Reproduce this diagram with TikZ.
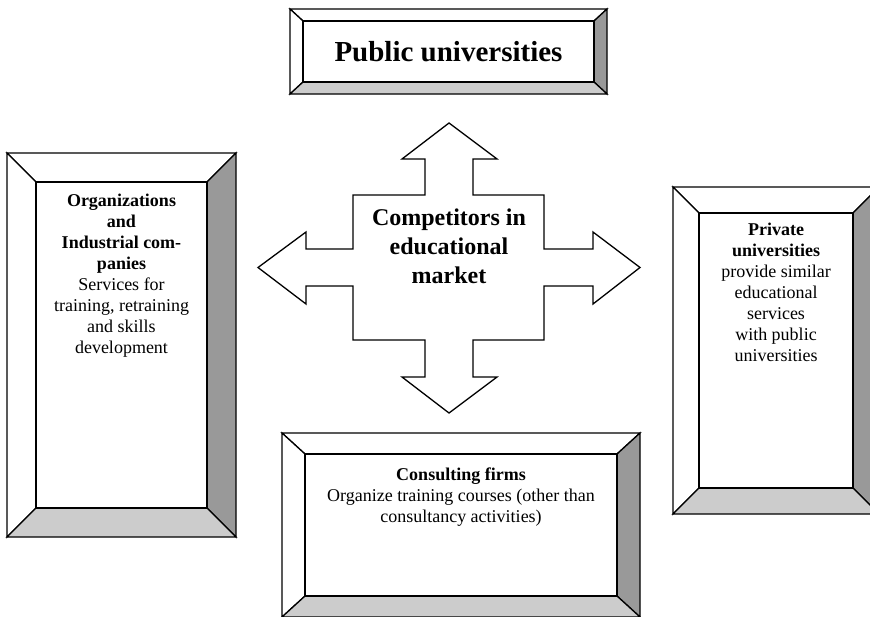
\documentclass[tikz,border=0pt]{standalone}
\usepackage{fontspec}
\setmainfont{Liberation Serif}
\usetikzlibrary{fit}
\definecolor{bevdark}{HTML}{999999}
\definecolor{bevlight}{HTML}{CCCCCC}
\tikzset{
  bev/.style={draw=black, line width=1.3pt, line join=miter},
  innerbox/.style={draw=black, line width=1.3pt, fill=white, inner sep=0pt},
  boxtext/.style={anchor=north, align=center, inner sep=0pt, font=\fontsize{18}{21}\selectfont},
  bigtext/.style={align=center, inner sep=0pt, font=\fontsize{24}{29}\selectfont\bfseries},
  arrowshape/.style={draw=black, line width=1.3pt, fill=white, line join=miter}
}
% name, x1, y1, x2, y2 (outer corners, pixels, y downward), dx, dy (bevel)
\newcommand{\bevbox}[7]{%
  \filldraw[bev, fill=white] (#2,#3) -- (#4,#3) -- (#4-#6,#3+#7) -- (#2+#6,#3+#7) -- cycle;
  \filldraw[bev, fill=white] (#2,#3) -- (#2+#6,#3+#7) -- (#2+#6,#5-#7) -- (#2,#5) -- cycle;
  \filldraw[bev, fill=bevdark] (#4,#3) -- (#4,#5) -- (#4-#6,#5-#7) -- (#4-#6,#3+#7) -- cycle;
  \filldraw[bev, fill=bevlight] (#2,#5) -- (#4,#5) -- (#4-#6,#5-#7) -- (#2+#6,#5-#7) -- cycle;
  \coordinate (#1-i1) at (#2+#6,#3+#7);
  \coordinate (#1-i2) at (#4-#6,#5-#7);
  \node[innerbox, fit=(#1-i1)(#1-i2)] (#1) {};
}
\begin{document}
\begin{tikzpicture}[x=1pt, y=-1pt]
\useasboundingbox (0,0) rectangle (870,616);
\clip (0,0) rectangle (870,616);

% Top box: Public universities
\bevbox{pub}{290}{9}{607}{94}{13}{12}
\node[inner sep=0pt, font=\fontsize{29}{33}\selectfont\bfseries] (pubt) at (pub.center) {Public universities};

% Left box
\bevbox{org}{7}{153}{236}{537}{29}{29}
\node[boxtext] (orgt) at ([yshift=-12pt]org.north) {\textbf{Organizations}\\\textbf{and}\\\textbf{Industrial com-}\\\textbf{panies}\\Services for\\training, retraining\\and skills\\development};

% Right box
\bevbox{priv}{673}{187}{879}{514}{26}{26}
\node[boxtext] (privt) at ([yshift=-10pt]priv.north) {\textbf{Private}\\\textbf{universities}\\provide similar\\educational\\services\\with public\\universities};

% Bottom box
\bevbox{cons}{282}{433}{640}{617}{23}{21}
\node[boxtext] (const) at ([yshift=-14pt]cons.north) {\textbf{Consulting firms}\\Organize training courses (other than\\consultancy activities)};

% Central four-way arrow
\filldraw[arrowshape] (449,123) -- (497,159) -- (473,159) -- (473,195) -- (544,195) -- (544,249)
  -- (593,249) -- (593,232) -- (640,267.5) -- (593,304) -- (593,286) -- (544,286) -- (544,340)
  -- (473,340) -- (473,377) -- (497,377) -- (449,413) -- (402,377) -- (425,377) -- (425,340)
  -- (353,340) -- (353,286) -- (306,286) -- (306,304) -- (258,267.5) -- (306,232) -- (306,249)
  -- (353,249) -- (353,195) -- (425,195) -- (425,159) -- (402,159) -- cycle;
\node[bigtext] (comp) at (449,246) {Competitors in\\educational\\market};
\end{tikzpicture}
\end{document}
